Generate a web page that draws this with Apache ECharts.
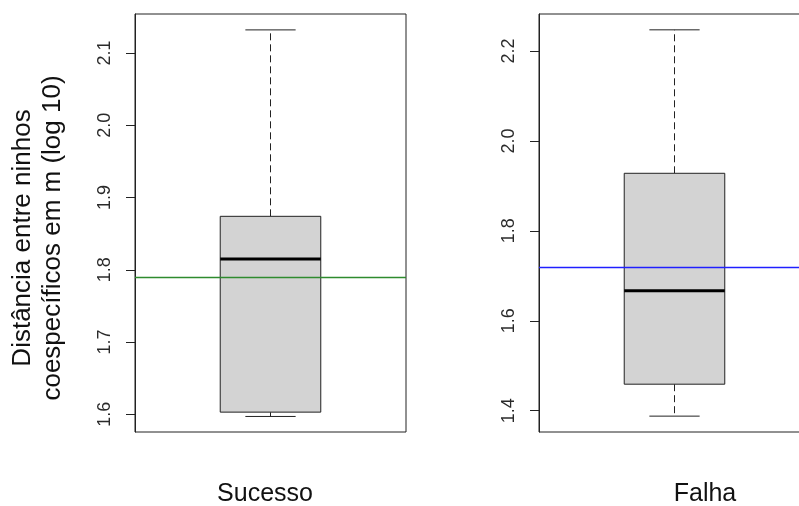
<!DOCTYPE html>
<html>
<head>
<meta charset="utf-8">
<script src="https://cdn.jsdelivr.net/npm/echarts@6/dist/echarts.min.js"></script>
<style>
  html, body { margin: 0; padding: 0; background: #fff; }
  #chart { width: 799px; height: 506px; }
</style>
</head>
<body>
<div id="chart"></div>
<script>
// categorias e estatisticas das caixas: [min, q1, mediana, q3, max]
const categories = ['Sucesso', 'Falha'];
const sucessoStats = [1.597, 1.603, 1.815, 1.874, 2.132];
const falhaStats = [1.388, 1.459, 1.667, 1.928, 2.247];
// linhas horizontais de referencia
const refLines = [1.789, 1.718];
const refColors = ['#2e8b2e', '#2020ff'];
// marcas dos eixos y
const ticksSucesso = [1.6, 1.7, 1.8, 1.9, 2.0, 2.1];
const ticksFalha = [1.4, 1.6, 1.8, 2.0, 2.2];
const yTitle = 'Distância entre ninhos\ncoespecíficos em m (log 10)';

const FONT = 'Liberation Sans, Arial, sans-serif';
const INK = '#222';

// desenha uma caixa no estilo do boxplot do R
const renderBox = (params, api) => {
    const cat = api.value(0);
    const pMin = api.coord([cat, api.value(1)]);
    const pQ1 = api.coord([cat, api.value(2)]);
    const pMed = api.coord([cat, api.value(3)]);
    const pQ3 = api.coord([cat, api.value(4)]);
    const pMax = api.coord([cat, api.value(5)]);
    const band = api.size([1, 0])[0];
    const boxW = band * 0.371;
    const capW = boxW / 2;
    const cx = pMed[0];
    const dashed = { stroke: INK, lineWidth: 1, lineDash: [7, 4] };
    const solid = { stroke: INK, lineWidth: 1 };
    return {
        type: 'group',
        children: [
            { type: 'line', shape: { x1: cx, y1: pQ3[1], x2: cx, y2: pMax[1] }, style: dashed },
            { type: 'line', shape: { x1: cx, y1: pQ1[1], x2: cx, y2: pMin[1] }, style: dashed },
            { type: 'line', shape: { x1: cx - capW / 2, y1: pMax[1], x2: cx + capW / 2, y2: pMax[1] }, style: solid },
            { type: 'line', shape: { x1: cx - capW / 2, y1: pMin[1], x2: cx + capW / 2, y2: pMin[1] }, style: solid },
            {
                type: 'rect',
                shape: { x: cx - boxW / 2, y: pQ3[1], width: boxW, height: pQ1[1] - pQ3[1] },
                style: { fill: '#d3d3d3', stroke: INK, lineWidth: 1 }
            },
            { type: 'line', shape: { x1: cx - boxW / 2, y1: pMed[1], x2: cx + boxW / 2, y2: pMed[1] }, style: { stroke: '#000', lineWidth: 3 } }
        ]
    };
};

const makeYAxis = (idx, min, max, ticks, withName) => {
    const ax = {
        type: 'value',
        gridIndex: idx,
        min: min,
        max: max,
        splitLine: { show: false },
        axisLine: { show: true, lineStyle: { color: INK } },
        axisTick: { show: true, length: 9, lineStyle: { color: INK }, customValues: ticks },
        axisLabel: {
            customValues: ticks,
            rotate: 90,
            margin: 21,
            fontFamily: FONT,
            fontSize: 18,
            color: '#2a2a2a',
            formatter: (v) => v.toFixed(1)
        }
    };
    if (withName) {
        ax.name = yTitle;
        ax.nameLocation = 'middle';
        ax.nameRotate = 90;
        ax.nameGap = 67;
        ax.nameTextStyle = { fontFamily: FONT, fontSize: 26, lineHeight: 30, color: '#111', padding: [0, 30, 0, 0] };
    }
    return ax;
};

const makeXAxis = (idx, label, pad) => ({
    type: 'category',
    gridIndex: idx,
    data: [label],
    axisLine: { show: false },
    axisTick: { show: false },
    axisLabel: { margin: 50, fontFamily: FONT, fontSize: 25, color: '#111', padding: pad }
});

const makeSeries = (idx, stats, ref, color) => ({
    type: 'custom',
    xAxisIndex: idx,
    yAxisIndex: idx,
    renderItem: renderBox,
    encode: { x: 0, y: [1, 2, 3, 4, 5] },
    data: [[0].concat(stats)],
    silent: true,
    markLine: {
        silent: true,
        symbol: 'none',
        label: { show: false },
        lineStyle: { color: color, width: 1.3, type: 'solid' },
        data: [{ yAxis: ref }]
    }
});

const chart = echarts.init(document.getElementById('chart'));
chart.setOption({
    animation: false,
    backgroundColor: '#fff',
    grid: [
        { left: 135, top: 14, width: 271, height: 418, show: true, borderColor: INK, borderWidth: 1, outerBoundsMode: 'none' },
        { left: 539, top: 14, width: 271, height: 418, show: true, borderColor: INK, borderWidth: 1, outerBoundsMode: 'none' }
    ],
    xAxis: [
        makeXAxis(0, categories[0], [0, 11, 0, 0]),
        makeXAxis(1, categories[1], [0, 0, 0, 61])
    ],
    yAxis: [
        makeYAxis(0, 1.5755, 2.154, ticksSucesso, true),
        makeYAxis(1, 1.3527, 2.2822, ticksFalha, false)
    ],
    series: [
        makeSeries(0, sucessoStats, refLines[0], refColors[0]),
        makeSeries(1, falhaStats, refLines[1], refColors[1])
    ]
});
</script>
</body>
</html>
